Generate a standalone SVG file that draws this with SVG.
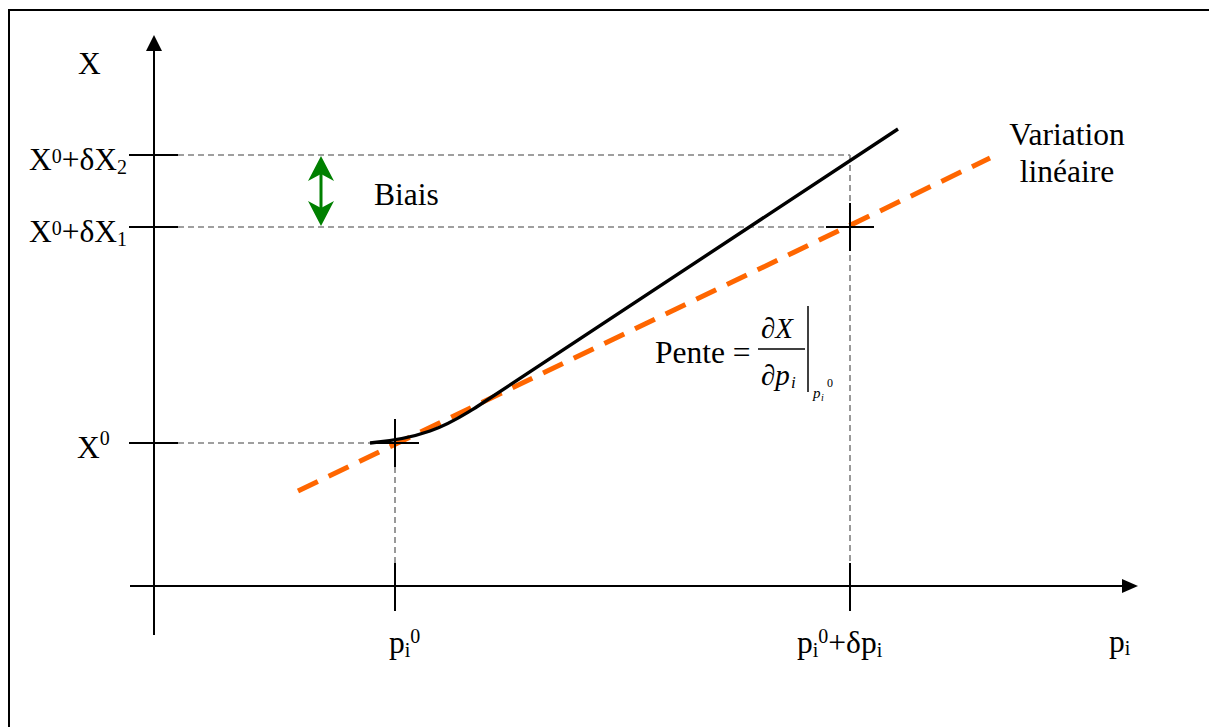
<svg xmlns="http://www.w3.org/2000/svg" width="1209" height="727" viewBox="0 0 1209 727">
<style>
text{font-family:"Liberation Serif","Times New Roman",serif;fill:#000;font-size:31.5px}
.sm{font-size:20px}
.ax{stroke:#000;stroke-width:2;fill:none}
.tk{stroke:#000;stroke-width:2}
.gd{stroke:#808080;stroke-width:1.6;stroke-dasharray:6,4;fill:none}
</style>
<rect width="1209" height="727" fill="#fff"/>
<path d="M9,727 V10 H1209" fill="none" stroke="#000" stroke-width="2"/>
<g id="guides">
<path class="gd" d="M178,155 H850 M178,227 H826 M178,443 H371 M395,467 V563 M850,155 V563"/>
</g>
<g id="axes">
<path class="ax" d="M154,51 V635 M130,586 H1123"/>
<polygon points="154,35 146,51 162,51" fill="#000"/>
<polygon points="1138,586 1122,579 1122,593" fill="#000"/>
<path class="tk" d="M129,155 H178 M129,227 H178 M129,443 H178 M395,563 V611 M850,563 V611"/>
</g>
<g id="connectors">
<path d="M298,491 L990,158" stroke="#FF6600" stroke-width="5" stroke-dasharray="22,12" fill="none"/>
<path d="M370,443 C392,441 410,438 430,431 C450,424 460,417 475,408 L898,129" stroke="#000" stroke-width="3.4" fill="none" stroke-linejoin="round"/>
<path class="tk" d="M371,443 H419 M395,419 V467 M826,227 H874 M850,203 V251"/>
</g>
<g id="biais">
<line x1="321" y1="170" x2="321" y2="212" stroke="#008000" stroke-width="3"/>
<polygon points="321,156 334,181 321,174 308,181" fill="#008000"/>
<polygon points="321,226 334,201 321,208 308,201" fill="#008000"/>
<text x="374" y="205">Biais</text>
</g>
<g id="labels">
<text x="78" y="74">X</text>
<text x="29" y="170">X<tspan class="sm" dy="-7">0</tspan><tspan dy="7">+δX</tspan><tspan class="sm" dy="4">2</tspan></text>
<text x="29" y="242">X<tspan class="sm" dy="-7">0</tspan><tspan dy="7">+δX</tspan><tspan class="sm" dy="4">1</tspan></text>
<text x="77" y="458">X<tspan class="sm" dy="-13">0</tspan></text>
<text x="389" y="653">p<tspan class="sm" dy="4">i</tspan><tspan class="sm" dy="-14">0</tspan></text>
<text x="797" y="653">p<tspan class="sm" dy="4">i</tspan><tspan class="sm" dy="-14">0</tspan><tspan dy="10">+δp</tspan><tspan class="sm" dy="4">i</tspan></text>
<text x="1109" y="652">p<tspan class="sm" dy="3">i</tspan></text>
<text x="1067" y="145" text-anchor="middle">Variation</text>
<text x="1067" y="182" text-anchor="middle">linéaire</text>
</g>
<g id="pente">
<text x="655" y="363">Pente =</text>
<text x="761" y="338" style="font-size:29px">∂<tspan font-style="italic">X</tspan></text>
<line x1="758" y1="349" x2="805" y2="349" stroke="#000" stroke-width="1.5"/>
<text x="761" y="385" style="font-size:29px">∂<tspan font-style="italic">p</tspan></text>
<text x="791" y="388" style="font-size:17px;font-style:italic">i</text>
<line x1="808" y1="306" x2="808" y2="392" stroke="#000" stroke-width="1.5"/>
<text x="813" y="398" style="font-size:15px;font-style:italic">p</text>
<text x="821" y="401" style="font-size:10px;font-style:italic">i</text>
<text x="827" y="387" style="font-size:12px">0</text>
</g>
</svg>
